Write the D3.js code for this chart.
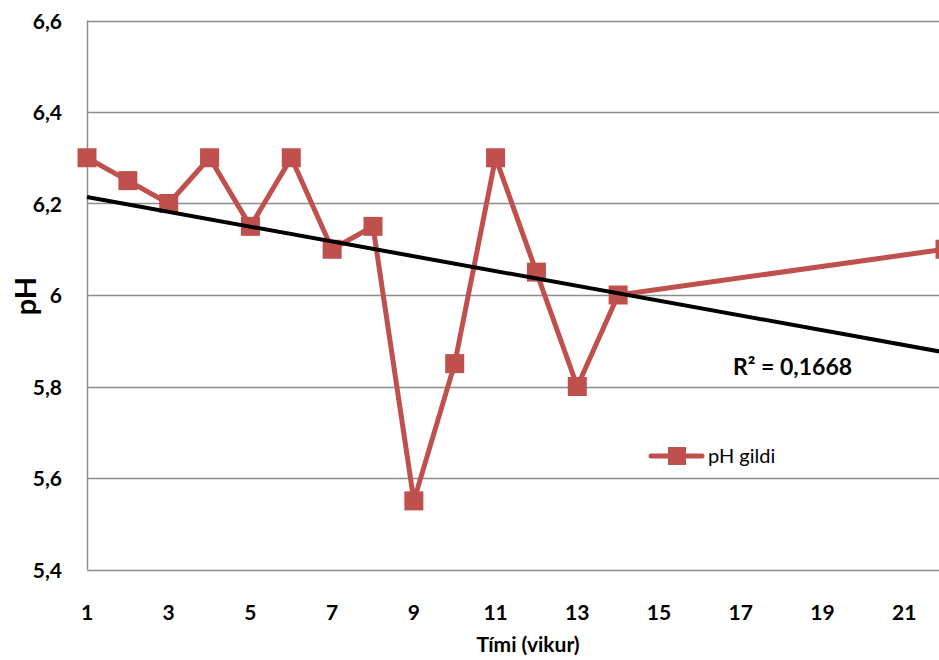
<!DOCTYPE html>
<html><head><meta charset="utf-8">
<script src="https://cdn.jsdelivr.net/npm/d3@7"></script>
<style>
html,body{margin:0;padding:0;background:#fff;overflow:hidden}
svg{display:block;font-family:Lato,"Open Sans",sans-serif}
</style></head><body>
<svg id="c" width="939" height="660"></svg>
<script>
const weeks = [1,2,3,4,5,6,7,8,9,10,11,12,13,14,22];
const phValues = [6.3,6.25,6.2,6.3,6.15,6.3,6.1,6.15,5.55,5.85,6.3,6.05,5.8,6.0,6.1];
const xTicks = [1,3,5,7,9,11,13,15,17,19,21];
const yTicks = [5.4,5.6,5.8,6.0,6.2,6.4,6.6];
const seriesName = "pH gildi";
const r2Label = "R² = 0,1668";
const xTitle = "Tími (vikur)";
const yTitle = "pH";

const svg = d3.select("#c");
const x = d3.scaleLinear().domain([1,22]).range([87,945]);
const y = d3.scaleLinear().domain([5.4,6.6]).range([569.5,20.5]);
const red = "#C0504D";
const fmt = v => (Math.round(v*10)/10===Math.round(v) ? String(Math.round(v)) : d3.format(".1f")(v).replace(".",","));

// gridlines
svg.append("g").selectAll("line").data(yTicks).join("line")
  .attr("x1",87).attr("x2",945)
  .attr("y1",d=>Math.round(y(d))+0.5).attr("y2",d=>Math.round(y(d))+0.5)
  .attr("stroke","#8c8c8c").attr("stroke-width",1.5);
// y axis line
svg.append("line").attr("x1",87.5).attr("x2",87.5).attr("y1",y(6.6)).attr("y2",y(5.4))
  .attr("stroke","#8c8c8c").attr("stroke-width",1.5);

// y tick labels
svg.append("g").selectAll("text").data(yTicks).join("text")
  .attr("x",62).attr("y",d=>y(d)+8).attr("text-anchor","end")
  .attr("font-size",21).attr("font-weight","bold").attr("fill","#000")
  .text(d=>fmt(d));
// x tick labels
svg.append("g").selectAll("text").data(xTicks).join("text")
  .attr("x",d=>x(d)).attr("y",620).attr("text-anchor","middle")
  .attr("font-size",21).attr("font-weight","bold").attr("fill","#000")
  .text(d=>d);

// titles
svg.append("text").attr("x",528).attr("y",652).attr("text-anchor","middle")
  .attr("font-size",21).attr("font-weight","bold").text(xTitle);
svg.append("text").attr("transform","translate(36,296) rotate(-90)").attr("text-anchor","middle")
  .attr("font-size",29).attr("font-weight","bold").text(yTitle);

// trendline (least squares from data)
const mx = d3.mean(weeks), my = d3.mean(phValues);
let sxy=0,sxx=0;
weeks.forEach((w,i)=>{sxy+=(w-mx)*(phValues[i]-my);sxx+=(w-mx)*(w-mx);});
const slope = sxy/sxx, icpt = my - slope*mx;

// series line
const data = weeks.map((w,i)=>({w,v:phValues[i]}));
svg.append("path").datum(data)
  .attr("d",d3.line().x(d=>x(d.w)).y(d=>y(d.v)))
  .attr("fill","none").attr("stroke",red).attr("stroke-width",5).attr("stroke-linejoin","round");
svg.append("g").selectAll("rect").data(data).join("rect")
  .attr("x",d=>x(d.w)-9.5).attr("y",d=>y(d.v)-9.5).attr("width",19).attr("height",19)
  .attr("fill",red);

svg.append("line")
  .attr("x1",x(1)).attr("y1",y(icpt+slope*1))
  .attr("x2",x(22)).attr("y2",y(icpt+slope*22))
  .attr("stroke","#000").attr("stroke-width",4);

// R2 label
svg.append("text").attr("x",733).attr("y",375).attr("font-size",23).attr("font-weight","bold").text(r2Label);

// legend
svg.append("line").attr("x1",651).attr("x2",702).attr("y1",456).attr("y2",456)
  .attr("stroke",red).attr("stroke-width",5).attr("stroke-linecap","round");
svg.append("rect").attr("x",668).attr("y",447).attr("width",18).attr("height",18).attr("fill",red);
svg.append("text").attr("x",708).attr("y",463).attr("font-size",20).attr("fill","#000").text(seriesName);
</script>
</body></html>
